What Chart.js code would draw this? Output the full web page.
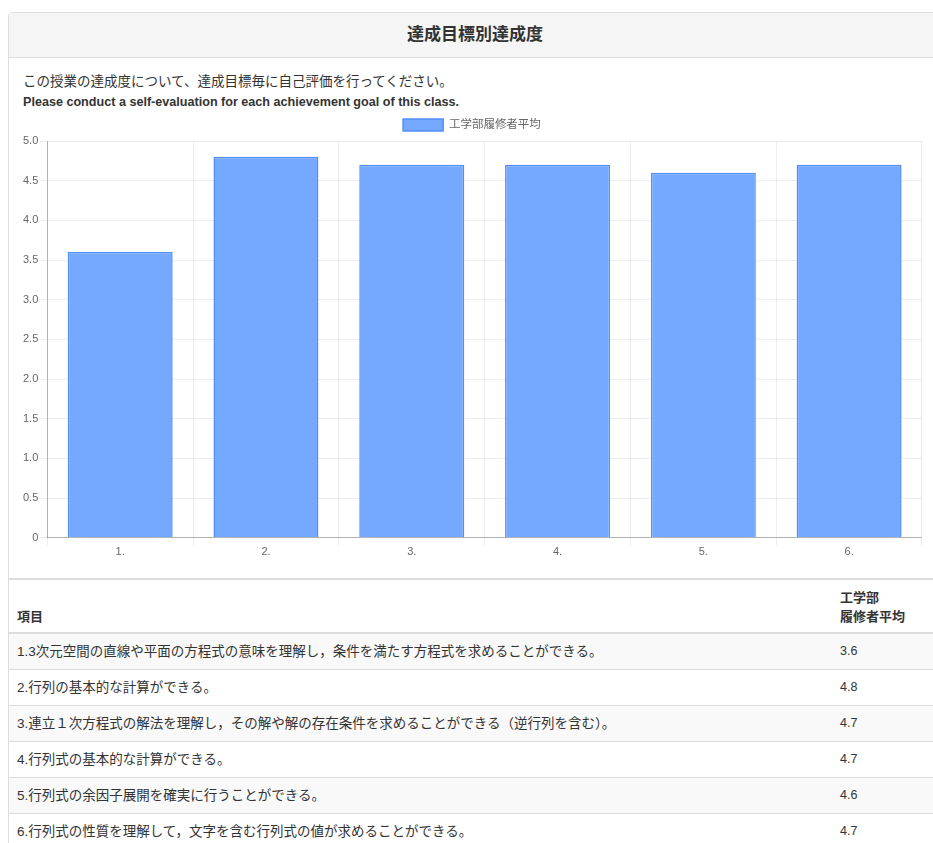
<!DOCTYPE html>
<html><head><meta charset="utf-8">
<script src="https://cdn.jsdelivr.net/npm/chart.js@4.4.1/dist/chart.umd.min.js"></script>
<style>
html,body{margin:0;padding:0;background:#fff;overflow:hidden;width:933px;height:843px;}
body{font-family:"Liberation Sans","Noto Sans CJK JP",sans-serif;color:#333;}
#panel{position:absolute;left:8px;top:12px;width:934px;height:900px;border:1px solid #ddd;border-radius:4px;box-sizing:border-box;}
#head{height:44px;background:#f5f5f5;border-bottom:1px solid #ddd;text-align:center;font-weight:bold;font-size:17px;line-height:43px;color:#333;}
#t1{position:absolute;left:14px;top:57px;font-size:13.5px;}
#t2{position:absolute;left:14px;top:82px;font-size:12.6px;font-weight:bold;}
#cw{position:absolute;left:13px;top:98px;width:900px;height:448px;}
table{position:absolute;left:0;top:565px;width:940px;border-collapse:collapse;font-size:13.5px;}
th{text-align:left;vertical-align:bottom;padding:8px;font-weight:bold;border-top:2px solid #ddd;border-bottom:2px solid #ddd;line-height:19px;font-size:13px;}
td{padding:8px;border-top:1px solid #ddd;line-height:19px;}
td.v{font-size:12.5px;}
tbody tr:nth-child(odd) td{background:#f9f9f9;}
</style></head><body>
<div id="panel">
<div id="head">達成目標別達成度</div>
<div id="t1">この授業の達成度について、達成目標毎に自己評価を行ってください。</div>
<div id="t2">Please conduct a self-evaluation for each achievement goal of this class.</div>
<div id="cw"><canvas id="c"></canvas></div>
<table id="tbl"><thead><tr><th style="height:36px;padding-bottom:6px">項目</th><th style="width:101px;padding-bottom:6px">工学部<br>履修者平均</th></tr></thead><tbody></tbody></table>
</div>
<script>
const categories = ["1.","2.","3.","4.","5.","6."];
const seriesName = "工学部履修者平均";
const values = [3.6,4.8,4.7,4.7,4.6,4.7];
const items = [
"1.3次元空間の直線や平面の方程式の意味を理解し，条件を満たす方程式を求めることができる。",
"2.行列の基本的な計算ができる。",
"3.連立１次方程式の解法を理解し，その解や解の存在条件を求めることができる（逆行列を含む）。",
"4.行列式の基本的な計算ができる。",
"5.行列式の余因子展開を確実に行うことができる。",
"6.行列式の性質を理解して，文字を含む行列式の値が求めることができる。"
];
const yTicks = [0,0.5,1,1.5,2,2.5,3,3.5,4,4.5,5];

const tb = document.querySelector('#tbl tbody');
items.forEach((t,i)=>{
  const tr=document.createElement('tr');
  tr.innerHTML='<td>'+t+'</td><td class="v">'+values[i].toFixed(1)+'</td>';
  tb.appendChild(tr);
});

Chart.defaults.font.family = '"Liberation Sans","Noto Sans CJK JP",sans-serif';
Chart.defaults.font.size = 11;
Chart.defaults.color = '#666';
new Chart(document.getElementById('c'),{
  type:'bar',
  data:{labels:categories,datasets:[{label:seriesName,data:values,
    backgroundColor:'#75a8ff',borderColor:'#4f8ff7',borderWidth:1.5,
    categoryPercentage:0.8,barPercentage:0.9}]},
  options:{
    responsive:true,maintainAspectRatio:false,animation:false,
    layout:{padding:{left:0,right:0,top:0,bottom:0}},
    plugins:{legend:{labels:{boxWidth:40,boxHeight:12,font:{size:11.5},padding:8}},tooltip:{enabled:false}},
    scales:{
      x:{grid:{offset:true,color:'rgba(0,0,0,0.07)',tickLength:8},border:{color:'rgba(0,0,0,0.25)'},
         ticks:{font:{size:11},padding:0}},
      y:{min:0,max:5,afterBuildTicks:(s)=>{s.ticks=yTicks.map(v=>({value:v}));},
         grid:{color:'rgba(0,0,0,0.07)',tickLength:8},border:{color:'rgba(0,0,0,0.25)'},
         ticks:{font:{size:11},padding:1,callback:(v)=>v===0?'0':Number(v).toFixed(1)}}
    }
  }
});
</script>
</body></html>
